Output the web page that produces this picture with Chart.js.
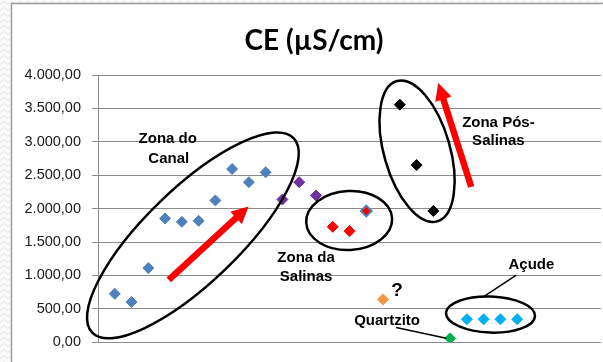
<!DOCTYPE html>
<html>
<head>
<meta charset="utf-8">
<script src="https://cdn.jsdelivr.net/npm/chart.js@4/dist/chart.umd.min.js"></script>
<style>
  html, body { margin: 0; padding: 0; background: #fff; }
  #wrap { width: 603px; height: 362px; position: relative; }
</style>
</head>
<body>
<div id="wrap"><canvas id="c" width="603" height="362"></canvas></div>
<script>
// Condutividade elétrica (µS/cm) por ponto de amostragem, agrupada por zona
const canalX = [1, 2, 3, 4, 5, 6, 7, 8, 9, 10];
const canalCE = [726, 603, 1111, 1852, 1803, 1818, 2123, 2593, 2396, 2544];

const transicaoX = [11, 12, 13];
const transicaoCE = [2138, 2396, 2197];

const salinasX = [14, 15, 16];
const salinasCE = [1728, 1664, 1965];

const duvidaX = [17];
const duvidaCE = [642];

const posSalinasX = [18, 19, 20];
const posSalinasCE = [3556, 2652, 1965];

const quartzitoX = [21];
const quartzitoCE = [59];

const acudeX = [22, 23, 24, 25];
const acudeCE = [345, 345, 345, 345];

const yTickValues = [0, 500, 1000, 1500, 2000, 2500, 3000, 3500, 4000];
const titleText = 'CE (µS/cm)';

// Formats 4000 as "4.000,00"
function formatBR(v) {
  const parts = Math.round(v).toString().replace(/\B(?=(\d{3})+(?!\d))/g, '.');
  return parts + ',00';
}
const yTickLabels = yTickValues.map(formatBR);

function pts(xs, ys) { return xs.map((x, i) => ({ x: x, y: ys[i] })); }

// Annotation layer, anchored in data units (x = sample index, y = CE)
const ellipses = [
  { x: 5.66, y: 1600, rx: 140, ry: 47, rot: -44 },   // Zona do Canal
  { x: 14.98, y: 1822, rx: 43, ry: 29.5, rot: -3 },  // Zona da Salinas
  { x: 19.03, y: 2859, rx: 73, ry: 33, rot: 74 },    // Zona Pós-Salinas
  { x: 23.41, y: 415, rx: 44.5, ry: 18, rot: 2 }     // Açude
];
const arrows = [
  { x1: 4.22, y1: 933, x2: 8.98, y2: 2034 },
  { x1: 22.26, y1: 2326, x2: 20.29, y2: 3881 }
];
const leaders = [
  { x1: 24.95, y1: 1007, x2: 22.98, y2: 681 },
  { x1: 17.78, y1: 222, x2: 20.77, y2: 59 }
];
const notes = [
  { text: 'Zona do', x: 4.16, y: 3037 },
  { text: 'Canal', x: 4.22, y: 2748 },
  { text: 'Zona da', x: 12.41, y: 1259 },
  { text: 'Salinas', x: 12.41, y: 978 },
  { text: 'Zona Pós-', x: 23.88, y: 3289 },
  { text: 'Salinas', x: 23.88, y: 3007 },
  { text: 'Açude', x: 25.85, y: 1156 },
  { text: 'Quartzito', x: 17.24, y: 326 },
  { text: '?', x: 17.84, y: 770, size: 19 }
];

function drawArrow(ctx, x1, y1, x2, y2) {
  const shaft = 6.5, headLen = 17, headW = 17;
  const dx = x2 - x1, dy = y2 - y1;
  const len = Math.hypot(dx, dy);
  const ux = dx / len, uy = dy / len;
  const nx = -uy, ny = ux;
  const bx = x2 - ux * headLen, by = y2 - uy * headLen;
  ctx.beginPath();
  ctx.moveTo(x1 + nx * shaft / 2, y1 + ny * shaft / 2);
  ctx.lineTo(bx + nx * shaft / 2, by + ny * shaft / 2);
  ctx.lineTo(bx + nx * headW / 2, by + ny * headW / 2);
  ctx.lineTo(x2, y2);
  ctx.lineTo(bx - nx * headW / 2, by - ny * headW / 2);
  ctx.lineTo(bx - nx * shaft / 2, by - ny * shaft / 2);
  ctx.lineTo(x1 - nx * shaft / 2, y1 - ny * shaft / 2);
  ctx.closePath();
  ctx.fillStyle = '#ff0000';
  ctx.fill();
}

const framePlugin = {
  id: 'frame',
  beforeDraw(chart) {
    const ctx = chart.ctx;
    const W = chart.width, H = chart.height;
    ctx.save();
    ctx.fillStyle = '#ffffff';
    ctx.fillRect(0, 0, W, H);
    // textured margin on the left and top
    const pc = document.createElement('canvas');
    pc.width = 8; pc.height = 6;
    const p = pc.getContext('2d');
    p.fillStyle = '#fafafa';
    p.fillRect(0, 0, 8, 6);
    p.strokeStyle = '#e4e4e4';
    p.lineWidth = 1;
    p.beginPath();
    p.moveTo(0, 4.5); p.lineTo(4, 1.5); p.lineTo(8, 4.5);
    p.stroke();
    ctx.fillStyle = ctx.createPattern(pc, 'repeat');
    ctx.fillRect(0, 0, 11, H);
    ctx.fillRect(0, 0, W, 3);
    ctx.strokeStyle = '#9d9d9d';
    ctx.lineWidth = 1.5;
    ctx.beginPath();
    ctx.moveTo(11.5, H);
    ctx.lineTo(11.5, 3.5);
    ctx.lineTo(W, 3.5);
    ctx.stroke();
    ctx.restore();
  },
  afterDatasetsDraw(chart) {
    const ctx = chart.ctx;
    const xs = chart.scales.x, ys = chart.scales.y;
    const px = v => xs.getPixelForValue(v);
    const py = v => ys.getPixelForValue(v);
    ctx.save();
    // ellipses
    ctx.strokeStyle = '#000000';
    ctx.lineWidth = 2.5;
    ellipses.forEach(e => {
      ctx.beginPath();
      ctx.ellipse(px(e.x), py(e.y), e.rx, e.ry, e.rot * Math.PI / 180, 0, Math.PI * 2);
      ctx.stroke();
    });
    // leader lines
    ctx.lineWidth = 1.5;
    leaders.forEach(l => {
      ctx.beginPath();
      ctx.moveTo(px(l.x1), py(l.y1));
      ctx.lineTo(px(l.x2), py(l.y2));
      ctx.stroke();
    });
    // trend arrows
    arrows.forEach(a => drawArrow(ctx, px(a.x1), py(a.y1), px(a.x2), py(a.y2)));
    // labels
    ctx.fillStyle = '#000000';
    ctx.textAlign = 'center';
    ctx.textBaseline = 'middle';
    notes.forEach(n => {
      ctx.font = 'bold ' + (n.size || 15) + 'px "Liberation Sans", Arial, sans-serif';
      ctx.fillText(n.text, px(n.x), py(n.y));
    });
    // title
    ctx.font = 'bold 28px Lato, "Open Sans", sans-serif';
    ctx.fillText(titleText, 314, 41);
    ctx.restore();
  }
};

const diamond = {
  showLine: false,
  pointStyle: 'rectRot',
  pointRadius: 5.5,
  pointHoverRadius: 5.5,
  pointBorderWidth: 1
};

new Chart(document.getElementById('c'), {
  type: 'scatter',
  data: {
    datasets: [
      Object.assign({ label: 'Canal', data: pts(canalX, canalCE), backgroundColor: '#4f81bd', borderColor: '#4f81bd' }, diamond),
      Object.assign({ label: 'Transição', data: pts(transicaoX, transicaoCE), backgroundColor: '#7030a0', borderColor: '#7030a0' }, diamond),
      Object.assign({ label: 'Salinas', data: pts(salinasX, salinasCE), backgroundColor: '#ff0000', borderColor: ['#ff0000', '#ff0000', '#4f81bd'] }, diamond, { pointBorderWidth: [1, 1, 1.8] }),
      Object.assign({ label: '?', data: pts(duvidaX, duvidaCE), backgroundColor: '#f79646', borderColor: '#f79646' }, diamond),
      Object.assign({ label: 'Pós-Salinas', data: pts(posSalinasX, posSalinasCE), backgroundColor: '#000000', borderColor: '#000000' }, diamond),
      Object.assign({ label: 'Quartzito', data: pts(quartzitoX, quartzitoCE), backgroundColor: '#00b050', borderColor: '#00b050' }, diamond),
      Object.assign({ label: 'Açude', data: pts(acudeX, acudeCE), backgroundColor: '#00b0f0', borderColor: '#00b0f0' }, diamond)
    ]
  },
  options: {
    responsive: false,
    animation: false,
    devicePixelRatio: 1,
    layout: { autoPadding: false, padding: { left: 0, right: 2, top: 75, bottom: 17 } },
    plugins: {
      legend: { display: false },
      tooltip: { enabled: false },
      title: { display: false }
    },
    scales: {
      x: {
        type: 'linear',
        min: 0,
        max: 30,
        display: false
      },
      y: {
        type: 'linear',
        min: 0,
        max: 4000,
        afterFit(scale) { scale.width = 98; },
        afterBuildTicks(scale) { scale.ticks = yTickValues.map(v => ({ value: v })); },
        ticks: {
          padding: 11,
          color: '#1a1a1a',
          font: { family: '"Liberation Sans", Arial, sans-serif', size: 14.5 },
          callback: (v) => yTickLabels[yTickValues.indexOf(v)]
        },
        grid: { color: '#8c8c8c', lineWidth: 1, tickLength: 6, drawTicks: true },
        border: { display: true, color: '#8c8c8c', width: 1 }
      }
    }
  },
  plugins: [framePlugin]
});
</script>
</body>
</html>
